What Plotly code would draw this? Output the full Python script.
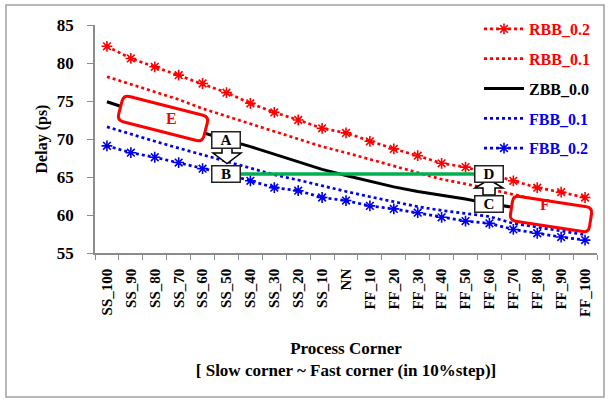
import math
import plotly.graph_objects as go

categories = ["SS_100", "SS_90", "SS_80", "SS_70", "SS_60", "SS_50", "SS_40", "SS_30", "SS_20", "SS_10", "NN",
              "FF_10", "FF_20", "FF_30", "FF_40", "FF_50", "FF_60", "FF_70", "FF_80", "FF_90", "FF_100"]
rbb_02 = [82.2, 80.6, 79.5, 78.4, 77.3, 76.1, 74.7, 73.5, 72.5, 71.4, 70.8,
          69.7, 68.7, 67.8, 66.8, 66.3, 65.4, 64.5, 63.6, 63.0, 62.3]
rbb_01 = [78.2, 77.2, 76.3, 75.2, 74.0, 73.0, 72.0, 70.9, 70.0, 69.0, 68.2,
          67.3, 66.4, 65.5, 64.7, 64.1, 63.4, 62.6, 61.9, 61.3, 60.7]
zbb_00 = [74.9, 73.8, 72.8, 71.8, 70.8, 69.9, 69.0, 68.0, 67.0, 66.0, 65.2,
          64.4, 63.7, 63.1, 62.6, 62.1, 61.5, 61.0, 60.5, 60.1, 59.7]
fbb_01 = [71.6, 70.6, 69.7, 68.8, 67.9, 67.0, 66.2, 65.3, 64.6, 63.8, 63.1,
          62.4, 61.7, 61.1, 60.6, 60.2, 59.8, 58.9, 58.4, 57.9, 57.4]
fbb_02 = [69.1, 68.2, 67.6, 66.9, 66.1, 65.4, 64.5, 63.6, 63.2, 62.3, 61.9,
          61.2, 60.8, 60.3, 59.7, 59.2, 58.9, 58.1, 57.6, 57.1, 56.7]
y_ticks = [55, 60, 65, 70, 75, 80, 85]

RED = "#FF0000"
BLUE = "#0000F0"
BLACK = "#000000"
GREEN = "#00B050"
FONT = "Liberation Serif, Times New Roman, serif"

W, H = 611, 401
ML, MR, MT, MB = 95, 14, 25, 148
PW = W - ML - MR
PH = H - MT - MB


def px(x):
    return (x - ML) / PW


def py(y):
    return (H - MB - y) / PH


def rrect_path(cx, cy, w, h, ang_deg, r):
    a = math.radians(ang_deg)
    ca, sa = math.cos(a), math.sin(a)

    def pt(u, v):
        X = cx + u * ca - v * sa
        Y = cy + u * sa + v * ca
        return f"{px(X):.5f},{py(Y):.5f}"

    hw, hh = w / 2, h / 2
    d = "M" + pt(-hw + r, -hh)
    d += " L" + pt(hw - r, -hh)
    d += " Q" + pt(hw, -hh) + " " + pt(hw, -hh + r)
    d += " L" + pt(hw, hh - r)
    d += " Q" + pt(hw, hh) + " " + pt(hw - r, hh)
    d += " L" + pt(-hw + r, hh)
    d += " Q" + pt(-hw, hh) + " " + pt(-hw, hh - r)
    d += " L" + pt(-hw, -hh + r)
    d += " Q" + pt(-hw, -hh) + " " + pt(-hw + r, -hh)
    d += " Z"
    return d


def arrow_path(cx, base, neck, tip, sw, hw):
    pts = [(cx - sw, base), (cx + sw, base), (cx + sw, neck), (cx + hw, neck),
           (cx, tip), (cx - hw, neck), (cx - sw, neck)]
    return "M" + " L".join(f"{px(x):.5f},{py(y):.5f}" for x, y in pts) + " Z"


def leg(name, color):
    return f"<span style='color:{color}'>{name}</span>"


fig = go.Figure()

series = [
    ("RBB_0.2", rbb_02, RED, "dot", "lines+markers"),
    ("RBB_0.1", rbb_01, RED, "dot", "lines"),
    ("ZBB_0.0", zbb_00, BLACK, "solid", "lines"),
    ("FBB_0.1", fbb_01, BLUE, "dot", "lines"),
    ("FBB_0.2", fbb_02, BLUE, "dot", "lines+markers"),
]
for name, vals, col, dash, mode in series:
    fig.add_trace(go.Scatter(
        x=categories, y=vals, name=leg(name, col), mode=mode, legendgroup=name,
        line=dict(color=col, width=3 if dash == "solid" else 2.7, dash=dash),
        marker=dict(symbol="asterisk-open", size=9, color=col, line=dict(color=col, width=1.6)),
    ))

# green iso-delay line from B to D
i_b = categories.index("SS_50")
i_d = categories.index("FF_60")
fig.add_trace(go.Scatter(
    x=[categories[i_b], categories[i_d]], y=[fbb_02[i_b], fbb_02[i_b]],
    mode="lines", line=dict(color=GREEN, width=3.5), showlegend=False, hoverinfo="skip"))

shapes = []
# outer chart frame
shapes.append(dict(type="rect", xref="paper", yref="paper", x0=px(6), x1=px(604), y0=py(397), y1=py(5),
                   line=dict(color="#A0A0A0", width=1.5), layer="below"))
# E and F rounded boxes
shapes.append(dict(type="path", xref="paper", yref="paper", path=rrect_path(163, 118.5, 88, 26, 14.3, 6),
                   line=dict(color=RED, width=3), fillcolor="white", layer="above"))
shapes.append(dict(type="path", xref="paper", yref="paper", path=rrect_path(551, 214, 80, 25, 8.8, 6),
                   line=dict(color=RED, width=3), fillcolor="white", layer="above"))
# block arrows
shapes.append(dict(type="path", xref="paper", yref="paper", path=arrow_path(227, 146, 153, 163.5, 5, 14),
                   line=dict(color=BLACK, width=1.5), fillcolor="white", layer="above"))
shapes.append(dict(type="path", xref="paper", yref="paper", path=arrow_path(489, 195, 188, 179.5, 6, 14),
                   line=dict(color=BLACK, width=1.5), fillcolor="white", layer="above"))

annotations = []
for label, cat, val in [("A", "SS_50", zbb_00[i_b]), ("B", "SS_50", fbb_02[i_b]),
                        ("C", "FF_60", zbb_00[i_d]), ("D", "FF_60", rbb_02[i_d])]:
    annotations.append(dict(x=cat, y=val, xref="x", yref="y", text=f"<b>{label}</b>", showarrow=False,
                            font=dict(family=FONT, size=15, color=BLACK), bgcolor="white",
                            bordercolor="#222222", borderwidth=1.5, borderpad=1, width=25, height=13))
annotations.append(dict(x=px(164), y=py(118), xref="paper", yref="paper", text="<b>E</b>", showarrow=False,
                        font=dict(family=FONT, size=16, color=RED)))
annotations.append(dict(x=px(552), y=py(215), xref="paper", yref="paper", text="<b>F</b>", showarrow=False,
                        font=dict(family=FONT, size=16, color=RED)))

fig.update_layout(
    width=W, height=H,
    margin=dict(l=ML, r=MR, t=MT, b=MB, autoexpand=False),
    paper_bgcolor="white", plot_bgcolor="white",
    font=dict(family=FONT, size=15, color=BLACK, weight="bold"),
    shapes=shapes, annotations=annotations,
    showlegend=True,
    legend=dict(xref="container", yref="container", x=479 / W, y=1 - 12 / H, xanchor="left", yanchor="top",
                bgcolor="rgba(0,0,0,0)",
                font=dict(family=FONT, size=16, weight="bold"), traceorder="grouped", tracegroupgap=6,
                itemwidth=40),
    xaxis=dict(type="category", range=[-0.5, len(categories) - 0.5], tickangle=-90, showline=True,
               linecolor="#8C8C8C", linewidth=1.5,
               ticks="outside", ticklen=5, tickcolor="#8C8C8C", tickson="boundaries",
               tickfont=dict(family=FONT, size=15, weight="bold"), ticklabelstandoff=8,
               showgrid=False, zeroline=False, automargin=False,
               title=dict(text="Process Corner<br>[ Slow corner ~ Fast corner (in 10%step)]",
                          font=dict(family=FONT, size=17, weight="bold"), standoff=26)),
    yaxis=dict(range=[55, 85], tickvals=y_ticks, showline=True, linecolor="#8C8C8C", linewidth=1.5,
               ticks="outside", ticklen=6, tickcolor="#8C8C8C", ticklabelstandoff=10,
               tickfont=dict(family=FONT, size=17, weight="bold"),
               showgrid=False, zeroline=False, automargin=False,
               title=dict(text="Delay (ps)", font=dict(family=FONT, size=16, weight="bold"), standoff=5)),
)

fig.write_html("out.html", config={"displayModeBar": False},
               post_script="document.body.style.margin='0px';")
